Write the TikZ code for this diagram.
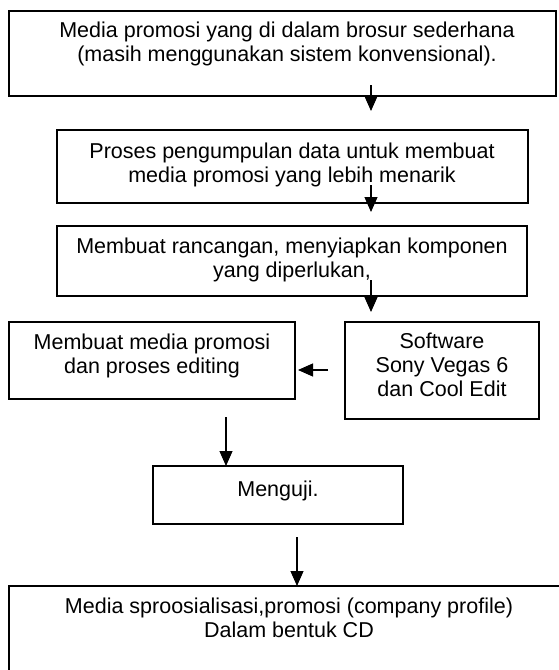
\documentclass[tikz,border=0pt]{standalone}
\usepackage{fontspec}
\setmainfont{Liberation Sans}
\usetikzlibrary{arrows.meta}
\begin{document}
\begin{tikzpicture}[x=1pt,y=-1pt,
  box/.style={draw, line width=2pt, inner sep=0pt, outer sep=0pt, anchor=north west},
  txt/.style={font=\fontsize{21.5}{24}\selectfont, align=center, anchor=base, inner sep=0pt},
  arr/.style={line width=1.1pt, -{Triangle[length=15pt,width=13pt]}}]
\useasboundingbox (0,0) rectangle (558,670);
% boxes
\node[box, minimum width=547pt, minimum height=85pt] (b1) at (9,11) {};
\node[box, minimum width=471pt, minimum height=73pt] (b2) at (57,130) {};
\node[box, minimum width=470pt, minimum height=70pt] (b3) at (57,226) {};
\node[box, minimum width=286pt, minimum height=77pt] (b4) at (9,322) {};
\node[box, minimum width=194pt, minimum height=97pt] (b5) at (345,322) {};
\node[box, minimum width=250pt, minimum height=58pt] (b6) at (153,466) {};
\node[box, minimum width=566pt, minimum height=104pt] (b7) at (9,586) {};
% texts (anchor = baseline of last line)
\node[txt] (t1) at (287,61) {Media promosi yang di dalam brosur sederhana\\(masih menggunakan sistem konvensional).};
\node[txt] (t2) at (292,182) {Proses pengumpulan data untuk membuat\\media promosi yang lebih menarik};
\node[txt] (t3) at (292,277) {Membuat rancangan, menyiapkan komponen\\yang diperlukan,};
\node[txt] (t4) at (152,373) {Membuat media promosi\\dan proses editing};
\node[txt] (t5) at (442,396) {Software\\Sony Vegas 6\\dan Cool Edit};
\node[txt] (t6) at (278,496) {Menguji.};
\node[txt] (t7) at (289,637) {Media sproosialisasi,promosi (company profile)\\Dalam bentuk CD};
% connectors
\coordinate (s1) at (371,85);
\coordinate (s2) at (371,185);
\coordinate (s3) at (371,280);
\coordinate (s4) at (328,370);
\coordinate (s5) at (226,417);
\coordinate (s6) at (297,537);
\draw[arr, shorten >=19pt] (s1) -- (s1 |- b2.north);
\draw[arr, shorten >=14pt] (s2) -- (s2 |- b3.north);
\draw[arr, shorten >=10pt] (s3) -- (s3 |- b5.north);
\draw[arr, shorten >=3pt] (s4) -- (s4 -| b4.east);
\draw[arr] (s5) -- (s5 |- b6.north);
\draw[arr] (s6) -- (s6 |- b7.north);
\end{tikzpicture}
\end{document}
